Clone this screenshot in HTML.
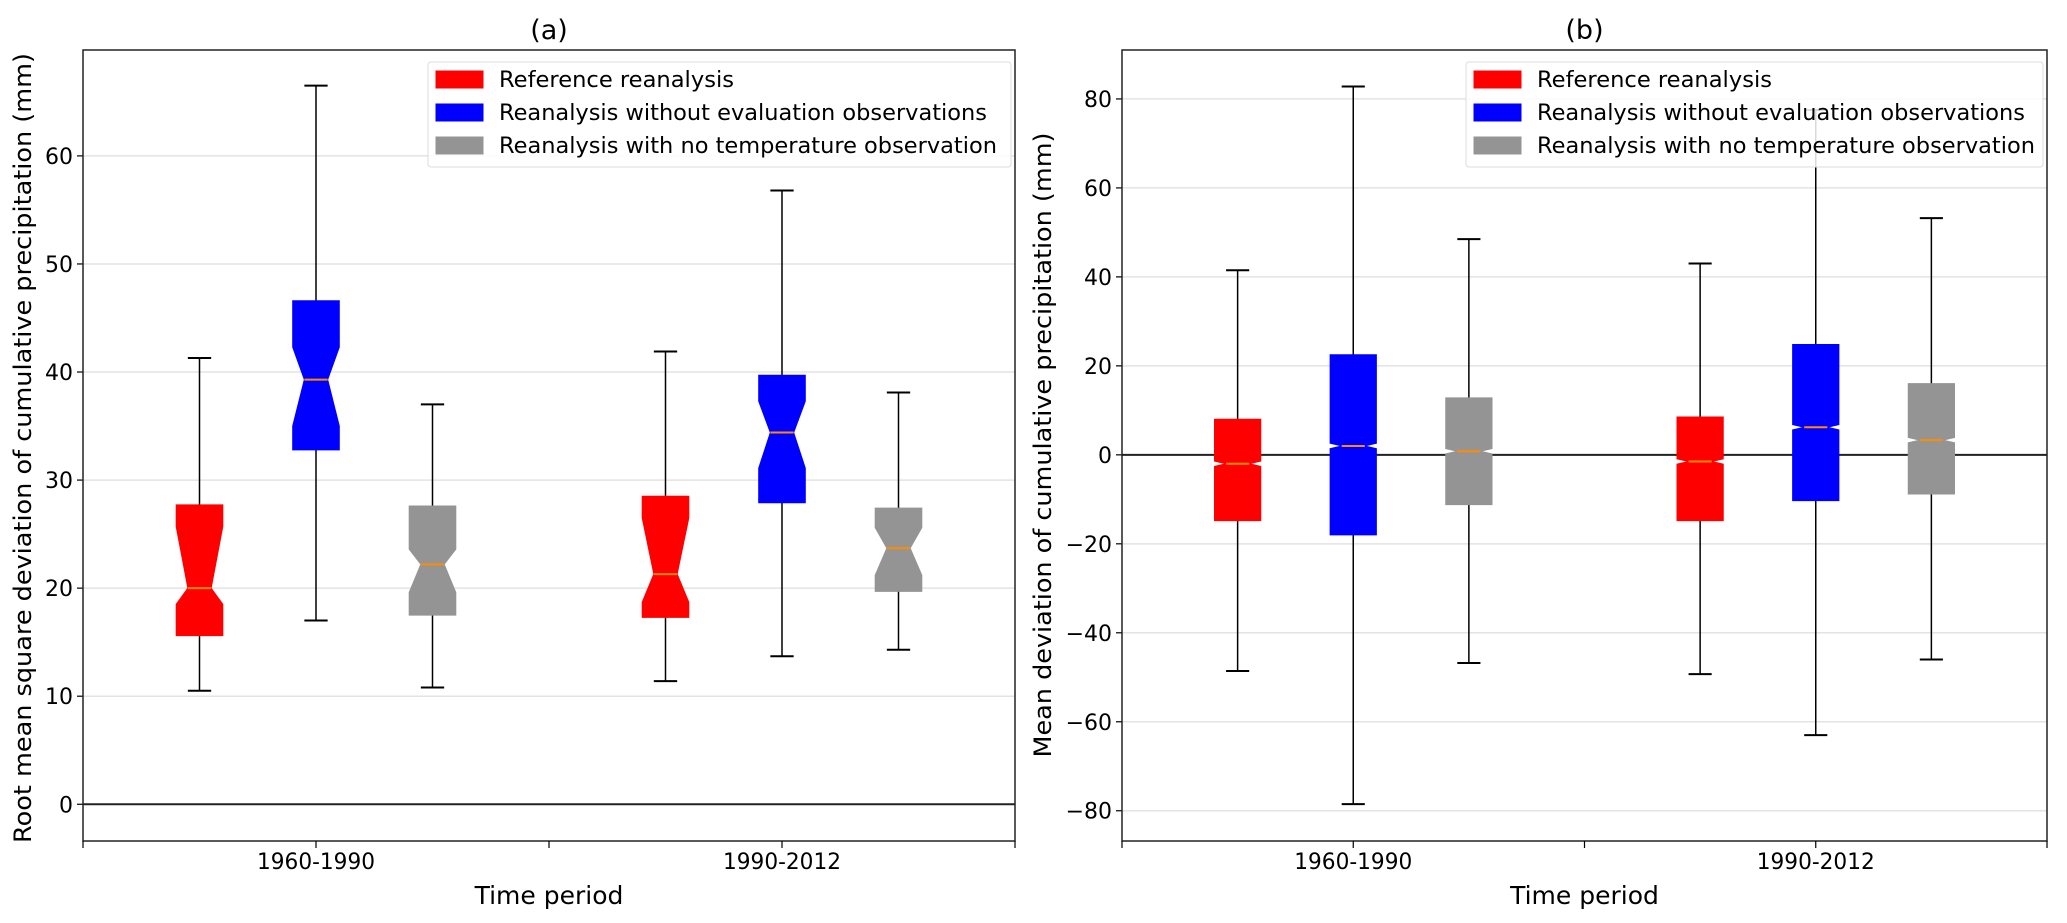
<!DOCTYPE html>
<html><head><meta charset="utf-8"><style>
html,body{margin:0;padding:0;background:#fff;}
svg{display:block;font-family:"DejaVu Sans","Liberation Sans",sans-serif;}
</style></head><body>
<svg id="fig" width="2067" height="923" viewBox="0 0 2067 923" xmlns="http://www.w3.org/2000/svg"></svg>
<script>
// ---- data ----
const categories = ["1960-1990", "1990-2012"];
const seriesNames = ["Reference reanalysis", "Reanalysis without evaluation observations", "Reanalysis with no temperature observation"];
// panel (a): per series, per category [whiskerLow, q1, notchLow, median, notchHigh, q3, whiskerHigh]
const aRef  = [[10.5, 15.6, 18.5, 20.0, 25.7, 27.7, 41.3], [11.4, 17.3, 18.7, 21.3, 26.5, 28.5, 41.9]];
const aNoEv = [[17.0, 32.8, 35.0, 39.3, 42.3, 46.6, 66.5], [13.7, 27.9, 31.1, 34.4, 37.3, 39.7, 56.8]];
const aNoT  = [[10.8, 17.5, 19.6, 22.2, 23.6, 27.6, 37.0], [14.3, 19.7, 21.2, 23.7, 25.6, 27.4, 38.1]];
// panel (b)
const bRef  = [[-48.6, -14.8, -2.6, -2.0, -1.4, 8.0, 41.5], [-49.3, -14.8, -2.1, -1.5, -0.9, 8.5, 43.0]];
const bNoEv = [[-78.5, -18.0, 1.4, 2.0, 2.6, 22.5, 82.8], [-63.0, -10.3, 5.6, 6.2, 6.8, 24.8, 77.5]];
const bNoT  = [[-46.8, -11.2, 0.2, 0.8, 1.4, 12.8, 48.5], [-46.0, -8.8, 2.7, 3.3, 3.9, 16.0, 53.2]];
const aTicks = [0, 10, 20, 30, 40, 50, 60];
const bTicks = [-80, -60, -40, -20, 0, 20, 40, 60, 80];
const colors = ["#ff0000", "#0000ff", "#949494"];

const NS = "http://www.w3.org/2000/svg";
const svg = document.getElementById("fig");
function mk(tag, attrs, parent, text) {
  const e = document.createElementNS(NS, tag);
  for (const k in attrs) e.setAttribute(k, attrs[k]);
  if (text !== undefined) e.textContent = text;
  (parent || svg).appendChild(e);
  return e;
}

function panel(cfg) {
  const g = mk("g", {});
  
  
  const L = cfg.left, R = cfg.right, T = 50, B = 841;
  const x = v => L + (R - L) * v / 4;
  const y = v => B - (v - cfg.ymin) / (cfg.ymax - cfg.ymin) * (B - T);
  cfg.ticks.forEach(t => {
    const gl = mk("line", {x1: L, x2: R, y1: y(t), y2: y(t), stroke: "#e3e3e3", "stroke-width": 1.5}, g);
    
    
    const tk = mk("line", {x1: L - 6, x2: L, y1: y(t), y2: y(t), stroke: "#000", "stroke-width": 1.2}, g);
    
    
    const lb = mk("text", {x: L - 10, y: y(t) + 8, "text-anchor": "end", "font-size": 22}, g, String(t).replace("-", "\u2212"));
    
    
  });
  const z = mk("line", {x1: L, x2: R, y1: y(0), y2: y(0), stroke: "#222", "stroke-width": 2}, g);
  
  
  const bw = (R - L) / 4 * 0.2;
  cfg.series.forEach((ser, si) => {
    ser.forEach((d, ci) => {
      const cx = x(1 + 2 * ci + (si - 1) * 0.5);
      const [wl, q1, nl, med, nh, q3, wh] = d;
      const bg = mk("g", {}, g);
      
      
      mk("line", {x1: cx, x2: cx, y1: y(q3), y2: y(wh), stroke: "#000", "stroke-width": 1.5}, bg);
      mk("line", {x1: cx, x2: cx, y1: y(q1), y2: y(wl), stroke: "#000", "stroke-width": 1.5}, bg);
      mk("line", {x1: cx - bw / 4, x2: cx + bw / 4, y1: y(wh), y2: y(wh), stroke: "#000", "stroke-width": 2}, bg);
      mk("line", {x1: cx - bw / 4, x2: cx + bw / 4, y1: y(wl), y2: y(wl), stroke: "#000", "stroke-width": 2}, bg);
      const h = bw / 2, q = bw / 4;
      const pts = [[cx - h, y(q1)], [cx + h, y(q1)], [cx + h, y(nl)], [cx + q, y(med)], [cx + h, y(nh)], [cx + h, y(q3)],
                   [cx - h, y(q3)], [cx - h, y(nh)], [cx - q, y(med)], [cx - h, y(nl)]];
      mk("polygon", {points: pts.map(p => p.join(",")).join(" "), fill: colors[si], stroke: colors[si], "stroke-width": 1}, bg);
      mk("line", {x1: cx - q, x2: cx + q, y1: y(med), y2: y(med), stroke: "#ff8c00", "stroke-width": 2}, bg);
    });
  });
  const fr = mk("rect", {x: L, y: T, width: R - L, height: B - T, fill: "none", stroke: "#222", "stroke-width": 1.5}, g);
  
  
  for (let i = 0; i <= 4; i++) {
    const xt = mk("line", {x1: x(i), x2: x(i), y1: B, y2: B + 7, stroke: "#000", "stroke-width": 1.2}, g);
    
    
  }
  categories.forEach((c, i) => {
    const t = mk("text", {x: x(1 + 2 * i), y: 869, "text-anchor": "middle", "font-size": 22, textLength: 118, lengthAdjust: "spacingAndGlyphs"}, g, c);
    
    
  });
  const xl = mk("text", {x: (L + R) / 2, y: 904, "text-anchor": "middle", "font-size": 25}, g, "Time period");
  
  
  const yl = mk("text", {x: 0, y: 0, "text-anchor": "middle", "font-size": 24, textLength: cfg.ylen, lengthAdjust: "spacingAndGlyphs", transform: `translate(${cfg.ylx},${cfg.yly}) rotate(-90)`}, g, cfg.ylabel);
  
  
  const ti = mk("text", {x: (L + R) / 2, y: 39, "text-anchor": "middle", "font-size": 27}, g, cfg.title);
  
  
  const lg = mk("g", {}, g);
  
  
  const lx = cfg.legX, lw = R - 4 - lx;
  mk("rect", {x: lx, y: 62, width: lw, height: 105, rx: 3, fill: "#fff", "fill-opacity": 0.85, stroke: "#dcdcdc"}, lg);
  const lens = [235, 488, 498];
  seriesNames.forEach((n, i) => {
    const ry = 71 + i * 33;
    const it = mk("g", {}, lg);
    
    
    mk("rect", {x: lx + 8, y: ry, width: 47, height: 17, fill: colors[i], stroke: colors[i]}, it);
    mk("text", {x: lx + 71, y: ry + 16, "font-size": 22, textLength: lens[i], lengthAdjust: "spacingAndGlyphs"}, it, n);
  });
}

panel({name: "panel-a", left: 83, right: 1015, ymin: -3.4, ymax: 69.8, ticks: aTicks,
  series: [aRef, aNoEv, aNoT], title: "(a)", ylabel: "Root mean square deviation of cumulative precipitation (mm)",
  ylx: 31, yly: 448, ylen: 790, legX: 428});
panel({name: "panel-b", left: 1122, right: 2047, ymin: -86.8, ymax: 91, ticks: bTicks,
  series: [bRef, bNoEv, bNoT], title: "(b)", ylabel: "Mean deviation of cumulative precipitation (mm)",
  ylx: 1051, yly: 445, ylen: 625, legX: 1466});
</script>
</body></html>
